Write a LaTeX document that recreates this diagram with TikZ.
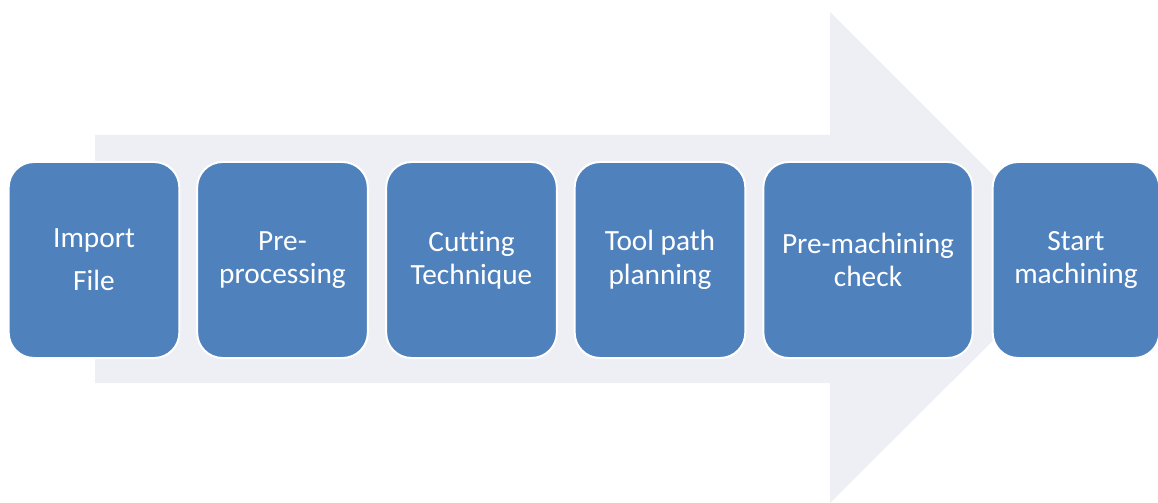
\documentclass[tikz,border=0pt]{standalone}
\usepackage{fontspec}
\setmainfont[Ligatures=NoCommon]{Carlito}
\definecolor{boxblue}{RGB}{79,129,189}
\definecolor{arrowgray}{RGB}{238,239,245}
\tikzset{stepbox/.style={draw=white, line width=1.5pt, fill=boxblue, rounded corners=19pt,
  text=white, align=center, font=\fontsize{22}{25}\selectfont,
  minimum height=147pt, minimum width=128pt, inner sep=0pt}}

\begin{document}
\begin{tikzpicture}[x=0.75pt,y=-0.75pt]
\useasboundingbox (0,0) rectangle (1158,503);
% big background arrow
\fill[arrowgray] (95,135) -- (830,135) -- (830,12) -- (1076,258) -- (830,503) -- (830,383) -- (95,383) -- cycle;
% steps
\node[stepbox] (import) at (94,260) {Import\\[7pt]File};
\node[stepbox] (pre) at (282.5,260) {Pre-\\processing};
\node[stepbox] (cutting) at (471.5,260) {Cutting\\Technique};
\node[stepbox] (toolpath) at (660,260) {Tool path\\planning};
\node[stepbox, minimum width=157pt] (check) at (868,260) {Pre-machining\\check};
\node[stepbox, minimum width=125pt] (start) at (1076,260) {Start\\machining};
\end{tikzpicture}
\end{document}
